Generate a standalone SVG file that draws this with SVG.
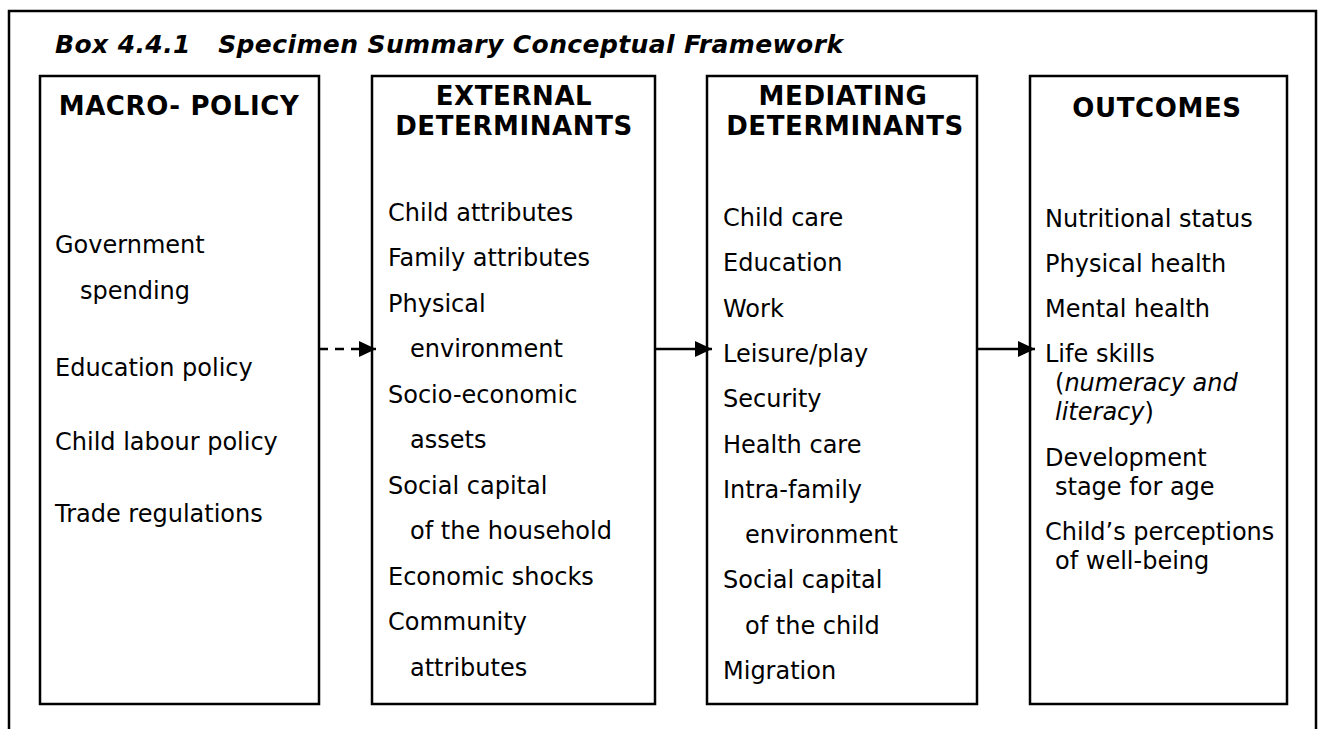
<svg xmlns="http://www.w3.org/2000/svg" width="1322" height="729" viewBox="0 0 1322 729">
<style>
.frame{fill:none;stroke:#000;stroke-width:2.5}
.box{fill:#fff;stroke:#000;stroke-width:2.5}
.hd{font-family:"DejaVu Sans",Verdana,sans-serif;font-weight:bold;font-size:26px;letter-spacing:0.6px;fill:#000;text-anchor:middle}
.tx{font-family:"DejaVu Sans",Verdana,sans-serif;font-size:24px;fill:#000}
.ttl{font-family:"DejaVu Sans",Verdana,sans-serif;font-weight:bold;font-style:italic;font-size:25px;letter-spacing:0.4px;fill:#000}
.arr{stroke:#000;stroke-width:2.5;fill:none;marker-end:url(#ah)}
</style>
<defs>
<marker id="ah" markerUnits="userSpaceOnUse" markerWidth="18" markerHeight="16" refX="17" refY="8" orient="auto">
<path d="M0,0 L17,8 L0,16 Z" fill="#000"/>
</marker>
</defs>
<rect width="1322" height="729" fill="#fff"/>
<path class="frame" d="M9,729 V11 H1316 V729"/>
<text class="ttl" x="55" y="53" xml:space="preserve">Box 4.4.1   Specimen Summary Conceptual Framework</text>

<g id="macro-policy">
<rect class="box" x="40" y="76" width="279" height="628"/>
<text class="hd" x="179" y="115">MACRO- POLICY</text>
<text class="tx" x="55" y="253">Government</text>
<text class="tx" x="80" y="299">spending</text>
<text class="tx" x="55" y="376">Education policy</text>
<text class="tx" x="55" y="450">Child labour policy</text>
<text class="tx" x="55" y="522">Trade regulations</text>
</g>

<g id="external-determinants">
<rect class="box" x="372" y="76" width="283" height="628"/>
<text class="hd" x="514" y="105">EXTERNAL</text>
<text class="hd" x="514" y="135">DETERMINANTS</text>
<text class="tx" x="388" y="221">Child attributes</text>
<text class="tx" x="388" y="266">Family attributes</text>
<text class="tx" x="388" y="312">Physical</text>
<text class="tx" x="410" y="357">environment</text>
<text class="tx" x="388" y="403">Socio-economic</text>
<text class="tx" x="410" y="448">assets</text>
<text class="tx" x="388" y="494">Social capital</text>
<text class="tx" x="410" y="539">of the household</text>
<text class="tx" x="388" y="585">Economic shocks</text>
<text class="tx" x="388" y="630">Community</text>
<text class="tx" x="410" y="676">attributes</text>
</g>

<g id="mediating-determinants">
<rect class="box" x="707" y="76" width="270" height="628"/>
<text class="hd" x="843" y="105">MEDIATING</text>
<text class="hd" x="845" y="135">DETERMINANTS</text>
<text class="tx" x="723" y="226">Child care</text>
<text class="tx" x="723" y="271">Education</text>
<text class="tx" x="723" y="317">Work</text>
<text class="tx" x="723" y="362">Leisure/play</text>
<text class="tx" x="723" y="407">Security</text>
<text class="tx" x="723" y="453">Health care</text>
<text class="tx" x="723" y="498">Intra-family</text>
<text class="tx" x="745" y="543">environment</text>
<text class="tx" x="723" y="588">Social capital</text>
<text class="tx" x="745" y="634">of the child</text>
<text class="tx" x="723" y="679">Migration</text>
</g>

<g id="outcomes">
<rect class="box" x="1030" y="76" width="257" height="628"/>
<text class="hd" x="1157" y="117">OUTCOMES</text>
<text class="tx" x="1045" y="227">Nutritional status</text>
<text class="tx" x="1045" y="272">Physical health</text>
<text class="tx" x="1045" y="317">Mental health</text>
<text class="tx" x="1045" y="362">Life skills</text>
<text class="tx" x="1055" y="391">(<tspan font-style="italic">numeracy and</tspan></text>
<text class="tx" x="1055" y="420"><tspan font-style="italic">literacy</tspan>)</text>
<text class="tx" x="1045" y="466">Development</text>
<text class="tx" x="1055" y="495">stage for age</text>
<text class="tx" x="1045" y="540">Child’s perceptions</text>
<text class="tx" x="1055" y="569">of well-being</text>
</g>

<g id="connectors">
<line class="arr" x1="319" y1="349" x2="376" y2="349" stroke-dasharray="9,7"/>
<line class="arr" x1="655" y1="349" x2="712" y2="349"/>
<line class="arr" x1="977" y1="349" x2="1035" y2="349"/>
</g>
</svg>
